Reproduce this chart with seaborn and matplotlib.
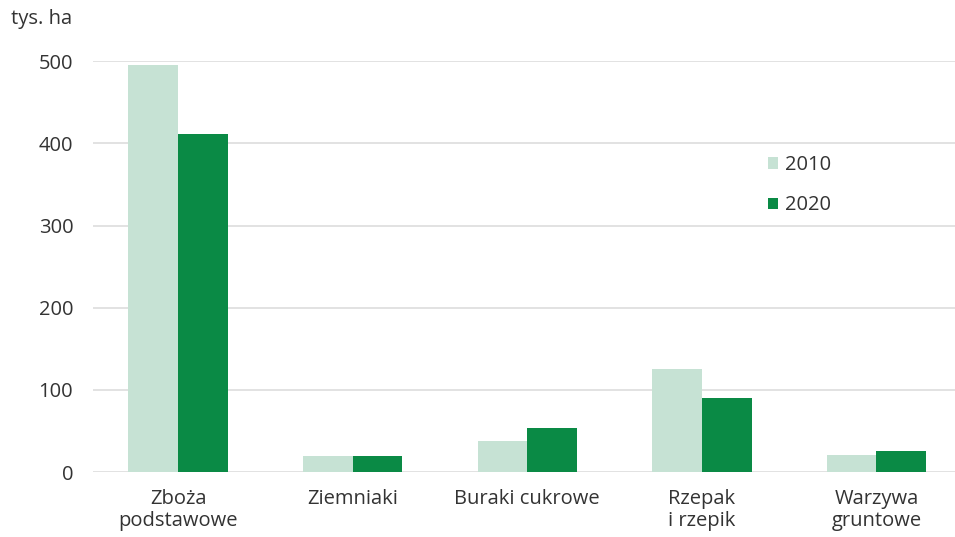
import matplotlib
matplotlib.use("Agg")
import matplotlib.pyplot as plt
import seaborn as sns
import pandas as pd

categories = ["Zboża\npodstawowe", "Ziemniaki", "Buraki cukrowe", "Rzepak\ni rzepik", "Warzywa\ngruntowe"]
years = ["2010", "2020"]
values_2010 = [495, 19.5, 38, 126, 21]
values_2020 = [411, 20, 53.5, 89.5, 26]
yticks = [0, 100, 200, 300, 400, 500]
unit_label = "tys. ha"

df = pd.DataFrame({
    "category": categories * 2,
    "year": [years[0]] * len(categories) + [years[1]] * len(categories),
    "value": values_2010 + values_2020,
})

sns.set_theme(style="white")
plt.rcParams["font.family"] = ["Open Sans", "DejaVu Sans"]
text_color = "#333333"
fs = 14.5

fig = plt.figure(figsize=(9.55, 5.37), dpi=100)
ax = fig.add_axes([0.097, 0.121, 0.903, 0.765])

palette = {"2010": "#c6e2d4", "2020": "#0a8a45"}
sns.barplot(data=df, x="category", y="value", hue="year", palette=palette,
            width=0.57, saturation=1, linewidth=0, ax=ax, zorder=3)

ax.set_ylim(0, 500)
ax.set_xlim(-0.49, 4.45)
ax.set_yticks(yticks)
ax.set_yticklabels([str(t) for t in yticks])
ax.yaxis.grid(True, color="#dddddd", linewidth=1.2, zorder=0)
ax.set_axisbelow(True)
for s in ax.spines.values():
    s.set_visible(False)
ax.set_xlabel("")
ax.set_ylabel("")
ax.tick_params(axis="y", length=0, pad=14, labelsize=fs, labelcolor=text_color)
ax.tick_params(axis="x", length=0, pad=12, labelsize=fs, labelcolor=text_color)
for lab in ax.get_xticklabels():
    lab.set_linespacing(1.15)

fig.text(0.011, 0.965, unit_label, fontsize=fs, color=text_color, ha="left", va="center")

leg = ax.legend(loc="upper left", bbox_to_anchor=(0.762, 0.815), frameon=False,
                fontsize=fs, handlelength=0.5, handleheight=0.5, handletextpad=0.35,
                labelspacing=1.0, title=None)
for t in leg.get_texts():
    t.set_color(text_color)

fig.savefig("out.png", dpi=100)
